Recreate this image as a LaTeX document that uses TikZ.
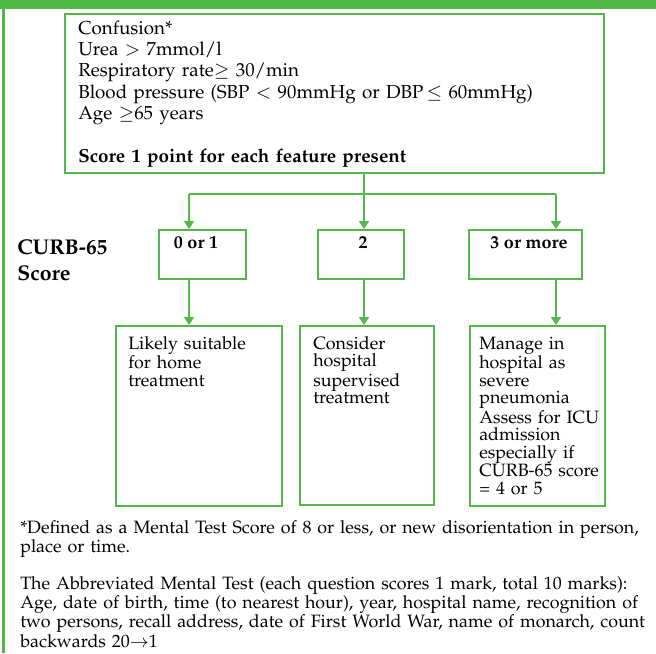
\documentclass[tikz,border=0pt]{standalone}
\usepackage[T1]{fontenc}
\usepackage{mathpazo}
\usepackage{tikz}
\usetikzlibrary{arrows.meta,positioning,calc}
\definecolor{curbgreen}{RGB}{80,185,72}

\tikzset{
    box/.style={draw=curbgreen,line width=1.5pt,inner sep=0pt,anchor=north west},
    link/.style={draw=curbgreen,line width=1.2pt},
    arrow/.style={link,-{Triangle[width=7.5pt,length=6pt]}},
    bodytext/.style={inner sep=0pt,anchor=base west,align=left,font=\fontsize{14.1}{16}\selectfont},
    smalltext/.style={inner sep=0pt,anchor=base west,align=left,font=\fontsize{13.4}{13.3}\selectfont},
    scorelabel/.style={inner sep=0pt,anchor=base,font=\fontsize{13.5}{16}\selectfont\bfseries}
}

\begin{document}
\begin{tikzpicture}[x=0.75pt,y=-0.75pt]
    \useasboundingbox (0,0) rectangle (656,653);

    %frame
    \fill [curbgreen] (0,0) rectangle (656,9);
    \draw [curbgreen,line width=2pt] (3.5,9) -- (3.5,653);

    %nodes
    \node [box,minimum width=404pt,minimum height=119pt] (features) at (64,13) {};
    \node [bodytext,text width=395pt] (featurestext) at (78,34) {Confusion*\\
        Urea $>$ 7mmol/l\\
        Respiratory rate$\geq$ 30/min\\
        Blood pressure (SBP $<$ 90mmHg or DBP\,$\leq$ 60mmHg)\\
        Age $\geq$65 years\\[16pt]
        \textbf{Score 1 point for each feature present}};

    \node [inner sep=0pt,anchor=base west,align=left,text width=80pt,
        font=\fontsize{16}{19.5}\selectfont\bfseries] (curb) at (17,254) {CURB-65\\ Score};

    \node [box,minimum width=65pt,minimum height=37pt] (score0) at (158,229) {};
    \node [scorelabel] (score0text) at (196,248) {0 or 1};
    \node [box,minimum width=64.5pt,minimum height=37pt] (score2) at (317,229) {};
    \node [scorelabel] (score2text) at (363,248) {2};
    \node [box,minimum width=85pt,minimum height=37pt] (score3) at (468,229) {};
    \node [scorelabel] (score3text) at (529,248) {3 or more};

    \node [box,minimum width=124.5pt,minimum height=135pt] (home) at (115,325) {};
    \node [smalltext,text width=110pt] (hometext) at (128,349) {Likely suitable\\ for home\\ treatment};
    \node [box,minimum width=100.5pt,minimum height=134pt] (hosp) at (299,325) {};
    \node [smalltext,text width=90pt] (hosptext) at (313,349) {Consider\\ hospital\\ supervised\\ treatment};
    \node [box,minimum width=101pt,minimum height=135pt] (icu) at (469,325) {};
    \node [smalltext,text width=100pt] (icutext) at (479,349) {Manage in\\ hospital as\\ severe\\ pneumonia\\
        Assess for ICU\\ admission\\ especially if\\ CURB-65 score\\ = 4 or 5};

    \node [smalltext,text width=490pt] (note) at (20,533) {*Defined as a Mental Test Score of 8 or less, or new disorientation in person,\\
        place or time.\\[13.3pt]
        The Abbreviated Mental Test (each question scores 1 mark, total 10 marks):\\
        Age, date of birth, time (to nearest hour), year, hospital name, recognition of\\
        two persons, recall address, date of First World War, name of monarch, count\\
        backwards 20$\rightarrow$1};

    %connectors
    \coordinate (split) at (364,194);
    \coordinate (left) at (189,194);
    \coordinate (right) at (556,194);
    \draw [link] (features.south -| split) -- (split);
    \draw [link] (left) -- (right);
    \draw [arrow] (left) -- (left |- score0.north);
    \draw [arrow] (split) -- (split |- score2.north);
    \draw [arrow] (right) -- (right |- score3.north);

    \draw [arrow] (score0.south -| left) -- (left |- home.north);
    \draw [arrow] (score2.south -| split) -- (split |- hosp.north);
    \draw [arrow] (score3.south -| right) -- (right |- icu.north);
\end{tikzpicture}
\end{document}
